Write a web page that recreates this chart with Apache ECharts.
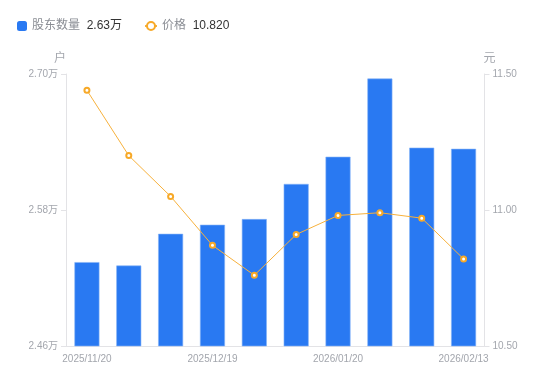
<!DOCTYPE html>
<html>
<head>
<meta charset="utf-8">
<script src="https://cdn.jsdelivr.net/npm/echarts@6/dist/echarts.min.js"></script>
<style>html,body{margin:0;padding:0;background:#fff}#c{width:550px;height:381px}</style>
</head>
<body>
<div id="c"></div>
<script>
var categories = ['2025/11/20','2025/11/28','2025/12/10','2025/12/19','2025/12/31','2026/01/09','2026/01/20','2026/01/30','2026/02/10','2026/02/13'];
var holders = [2.534, 2.531, 2.559, 2.567, 2.572, 2.603, 2.627, 2.696, 2.635, 2.634];
var prices = [11.44, 11.20, 11.05, 10.87, 10.76, 10.91, 10.98, 10.99, 10.97, 10.82];
var leftTicks = [2.46, 2.58, 2.70];
var rightMin = 10.5, rightMax = 11.5, rightStep = 0.5;

var FONT = "'Liberation Sans','Noto Sans CJK SC',sans-serif";
var labelColor = '#a3a6ad';
var axisColor = '#e3e3e6';
var chart = echarts.init(document.getElementById('c'));
var lastH = holders[holders.length-1].toFixed(2) + '万';
var lastP = prices[prices.length-1].toFixed(3);
function fmt(n){ return '{n|' + n + '}  {v|' + (n === '股东数量' ? lastH : lastP) + '}'; }
var legendText = {
  fontFamily: FONT,
  rich: {
    n: {color: '#8a8d94', fontSize: 12, fontFamily: FONT},
    v: {color: '#333', fontSize: 12, fontFamily: FONT}
  }
};
chart.setOption({
  animation: false,
  textStyle: {fontFamily: FONT},
  legend: [{
    left: 17, top: 20, padding: 0, itemWidth: 10, itemHeight: 10, itemGap: 5,
    data: [{name: '股东数量', icon: 'roundRect', itemStyle: {borderWidth: 0}}],
    formatter: fmt, textStyle: legendText
  }, {
    left: 144, top: 20, padding: 0, itemWidth: 12, itemHeight: 10,
    data: [{name: '价格'}],
    formatter: fmt, textStyle: legendText
  }],
  grid: {left: 66, right: 65.5, top: 74, bottom: 35},
  xAxis: {
    type: 'category', data: categories,
    axisLine: {lineStyle: {color: axisColor}},
    axisTick: {show: false},
    axisLabel: {interval: 2, color: labelColor, fontSize: 10, margin: 8, fontFamily: FONT}
  },
  yAxis: [{
    type: 'value', min: leftTicks[0], max: leftTicks[leftTicks.length-1],
    name: '户', nameGap: 9,
    nameTextStyle: {color: labelColor, fontSize: 12, fontFamily: FONT, padding: [0, 12, 0, 0]},
    axisLine: {show: true, lineStyle: {color: axisColor}},
    axisTick: {show: true, length: 5, lineStyle: {color: axisColor}, customValues: leftTicks},
    axisLabel: {color: labelColor, fontSize: 10, margin: 8, fontFamily: FONT, customValues: leftTicks,
      formatter: function(v){ return v.toFixed(2) + '万'; }},
    splitLine: {show: false}
  }, {
    type: 'value', min: rightMin, max: rightMax, interval: rightStep,
    name: '元', nameGap: 9,
    nameTextStyle: {color: labelColor, fontSize: 12, fontFamily: FONT, padding: [0, 0, 0, 10]},
    axisLine: {show: true, lineStyle: {color: axisColor}},
    axisTick: {show: true, length: 5, lineStyle: {color: axisColor}},
    axisLabel: {color: labelColor, fontSize: 10, margin: 8, fontFamily: FONT,
      formatter: function(v){ return v.toFixed(2); }},
    splitLine: {show: false}
  }],
  series: [{
    name: '股东数量', type: 'bar', data: holders, yAxisIndex: 0,
    barWidth: 25,
    itemStyle: {color: '#2979f2', borderColor: '#86b3f7', borderWidth: 0.6}
  }, {
    name: '价格', type: 'line', data: prices, yAxisIndex: 1,
    symbol: 'emptyCircle', symbolSize: 5,
    lineStyle: {color: '#f7b13c', width: 1},
    itemStyle: {color: '#f7a928', borderWidth: 2}
  }]
});
</script>
</body>
</html>
